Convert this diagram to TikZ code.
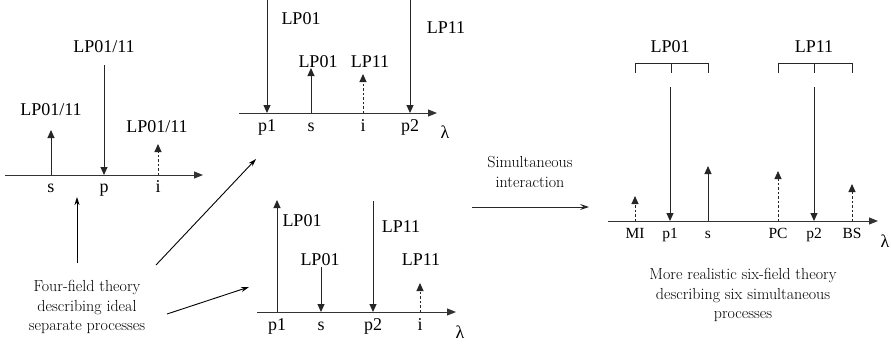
\documentclass[tikz,border=0pt]{standalone}
\usepackage{fontspec}
\newfontfamily\tms{Liberation Serif}
\usetikzlibrary{arrows.meta}
\begin{document}
\begin{tikzpicture}[x=1pt,y=-1pt,
  axisln/.style={line width=1pt,draw=black!80,-{Triangle[length=9pt,width=7pt]}},
  spike/.style={line width=1pt,draw=black!85,-{Triangle[length=8pt,width=7pt]}},
  dspike/.style={spike,dash pattern=on 2.5pt off 2pt},
  lbl/.style={font=\tms\fontsize{18}{20}\selectfont,inner sep=0pt,anchor=base},
  albl/.style={font=\tms\fontsize{15.5}{18}\selectfont,inner sep=0pt,anchor=base},
  desc/.style={font=\fontsize{16}{19.5}\selectfont,align=center,inner sep=0pt,text=black},
  thin/.style={line width=0.9pt,-{Stealth[length=8pt,width=5pt,inset=2.5pt]}},
  brk/.style={line width=1pt,draw=black!85}]
\useasboundingbox (0,0) rectangle (891,343);

% ---------------- Panel 1 ----------------
\coordinate (a1s) at (5,175);
\coordinate (a1e) at (203,175);
\draw[axisln] (a1s) -- (a1e);
\coordinate (s1b) at (51,175);  \coordinate (s1t) at (51,130);
\coordinate (p1t) at (104,65);  \coordinate (p1b) at (104,175);
\coordinate (i1b) at (158,175); \coordinate (i1t) at (158,144);
\draw[spike] (s1b) -- (s1t);
\draw[spike] (p1t) -- (p1b);
\draw[dspike] (i1b) -- (i1t);
\node[lbl] (L1s) at (51,115) {LP01/11};
\node[lbl] (L1p) at (104,52) {LP01/11};
\node[lbl] (L1i) at (157,132) {LP01/11};
\node[lbl] (x1s) at (51,192) {s};
\node[lbl] (x1p) at (104,192) {p};
\node[lbl] (x1i) at (158,192) {i};

% description left
\node[desc] (D1) at (87,307) {Four-field theory\\describing ideal\\separate processes};
\coordinate (d1a) at (77,263);
\coordinate (d1b) at (77,197);
\draw[thin] (d1a) -- (d1b);
\coordinate (d2a) at (156,265);
\coordinate (d2b) at (256,159);
\draw[thin] (d2a) -- (d2b);
\coordinate (d3a) at (167,314);
\coordinate (d3b) at (249,287);
\draw[thin] (d3a) -- (d3b);

% ---------------- Panel 2 ----------------
\coordinate (a2s) at (239,113);
\coordinate (a2e) at (437,113);
\draw[axisln] (a2s) -- (a2e);
\coordinate (q1t) at (267,0);   \coordinate (q1b) at (267,113);
\coordinate (q2b) at (311,113); \coordinate (q2t) at (311,68);
\coordinate (q3b) at (363,113); \coordinate (q3t) at (363,74);
\coordinate (q4t) at (410,0);   \coordinate (q4b) at (410,113);
\draw[spike] (q1t) -- (q1b);
\draw[spike] (q2b) -- (q2t);
\draw[dspike] (q3b) -- (q3t);
\draw[spike] (q4t) -- (q4b);
\node[lbl] (L2a) at (301,24) {LP01};
\node[lbl] (L2b) at (318,67) {LP01};
\node[lbl] (L2c) at (370,67) {LP11};
\node[lbl] (L2d) at (446,33) {LP11};
\node[lbl] (x2a) at (267,131) {p1};
\node[lbl] (x2b) at (311,131) {s};
\node[lbl] (x2c) at (363,131) {i};
\node[lbl] (x2d) at (410,131) {p2};
\node[lbl] (x2l) at (445,138) {λ};

% ---------------- Panel 3 ----------------
\coordinate (a3s) at (257,312);
\coordinate (a3e) at (456,312);
\draw[axisln] (a3s) -- (a3e);
\coordinate (r1b) at (277,312); \coordinate (r1t) at (277,200);
\coordinate (r2t) at (321,267); \coordinate (r2b) at (321,312);
\coordinate (r3t) at (373,201); \coordinate (r3b) at (373,312);
\coordinate (r4b) at (420,312); \coordinate (r4t) at (420,283);
\draw[spike] (r1b) -- (r1t);
\draw[spike] (r2t) -- (r2b);
\draw[spike] (r3t) -- (r3b);
\draw[dspike] (r4b) -- (r4t);
\node[lbl] (L3a) at (302,226) {LP01};
\node[lbl] (L3b) at (320,265) {LP01};
\node[lbl] (L3c) at (401,232) {LP11};
\node[lbl] (L3d) at (421,265) {LP11};
\node[lbl] (x3a) at (277,330) {p1};
\node[lbl] (x3b) at (321,330) {s};
\node[lbl] (x3c) at (373,330) {p2};
\node[lbl] (x3d) at (420,330) {i};
\node[lbl] (x3l) at (460,338) {λ};

% ---------------- Simultaneous arrow ----------------
\node[desc] (SI) at (530,172) {Simultaneous\\interaction};
\coordinate (sia) at (472,207);
\coordinate (sib) at (589,207);
\draw[line width=1pt,draw=black!85,-{Stealth[length=9pt,width=6pt,inset=3.5pt]}] (sia) -- (sib);

% ---------------- Panel 4 ----------------
\coordinate (a4s) at (608,221);
\coordinate (a4e) at (878,221);
\draw[axisln] (a4s) -- (a4e);
\coordinate (m1b) at (635,221); \coordinate (m1t) at (635,196);
\coordinate (m2t) at (670,87);  \coordinate (m2b) at (670,221);
\coordinate (m3b) at (708,221); \coordinate (m3t) at (708,166);
\coordinate (m4b) at (778,221); \coordinate (m4t) at (778,171);
\coordinate (m5t) at (814,87);  \coordinate (m5b) at (814,221);
\coordinate (m6b) at (852,221); \coordinate (m6t) at (852,184);
\draw[dspike] (m1b) -- (m1t);
\draw[spike] (m2t) -- (m2b);
\draw[spike] (m3b) -- (m3t);
\draw[dspike] (m4b) -- (m4t);
\draw[spike] (m5t) -- (m5b);
\draw[dspike] (m6b) -- (m6t);
\node[albl] (x4a) at (635,238) {MI};
\node[albl] (x4b) at (670,238) {p1};
\node[albl] (x4c) at (708,238) {s};
\node[albl] (x4d) at (778,238) {PC};
\node[albl] (x4e) at (814,238) {p2};
\node[albl] (x4f) at (852,238) {BS};
\node[lbl] (x4l) at (885,247) {λ};
% brackets
\coordinate (b1l) at (635,73); \coordinate (b1lt) at (635,63);
\coordinate (b1r) at (708,73); \coordinate (b1rt) at (708,63);
\coordinate (b1m) at (671,73); \coordinate (b1mt) at (671,63);
\draw[brk] (b1l) -- (b1lt) -- (b1rt) -- (b1r);
\draw[brk] (b1mt) -- (b1m);
\coordinate (b2l) at (778,73); \coordinate (b2lt) at (778,63);
\coordinate (b2r) at (852,73); \coordinate (b2rt) at (852,63);
\coordinate (b2m) at (814,73); \coordinate (b2mt) at (814,63);
\draw[brk] (b2l) -- (b2lt) -- (b2rt) -- (b2r);
\draw[brk] (b2mt) -- (b2m);
\node[lbl] (L4a) at (670,52) {LP01};
\node[lbl] (L4b) at (814,52) {LP11};
\node[desc] (D4) at (743,295) {More realistic six-field theory\\describing six simultaneous\\processes};
\end{tikzpicture}
\end{document}
